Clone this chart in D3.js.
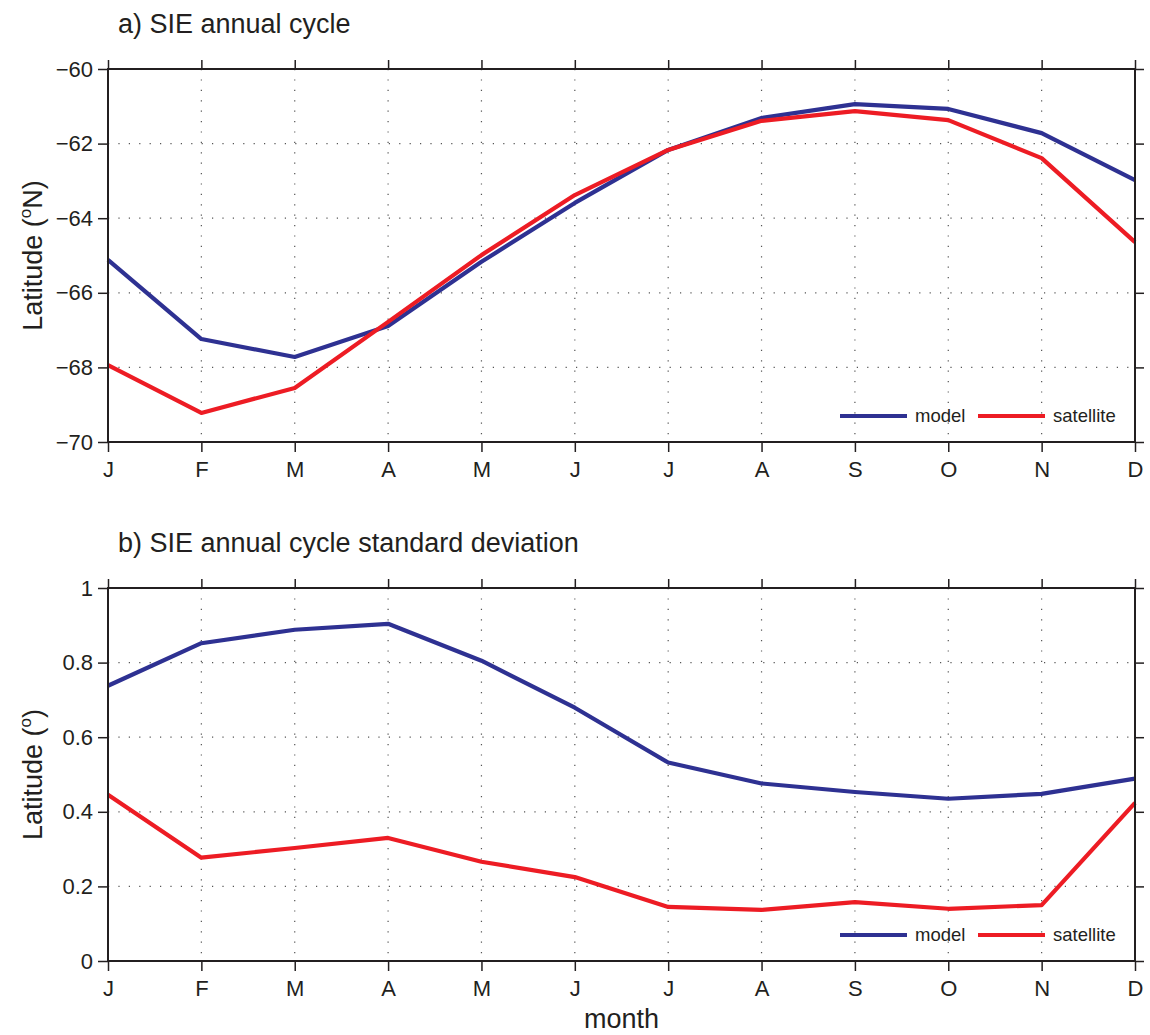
<!DOCTYPE html>
<html>
<head>
<meta charset="utf-8">
<script src="https://cdn.jsdelivr.net/npm/d3@7"></script>
<style>
  body { margin: 0; background: #fff; }
  svg text { font-family: "Liberation Sans", Arial, Helvetica, sans-serif; fill: #231f20; }
</style>
</head>
<body>
<svg id="chart" width="1150" height="1035"></svg>
<script>
// month labels
const months = ['J', 'F', 'M', 'A', 'M', 'J', 'J', 'A', 'S', 'O', 'N', 'D'];

// a) annual cycle of sea ice edge latitude
const cycleModel = [-65.12, -67.24, -67.72, -66.89, -65.17, -63.59, -62.17, -61.31, -60.94, -61.07, -61.72, -62.98];
const cycleSatellite = [-67.94, -69.22, -68.55, -66.78, -64.99, -63.38, -62.17, -61.39, -61.13, -61.37, -62.39, -64.64];
const cycleTicks = [-60, -62, -64, -66, -68, -70];

// b) standard deviation of annual cycle
const sdModel = [0.738, 0.852, 0.888, 0.904, 0.805, 0.679, 0.532, 0.476, 0.453, 0.435, 0.448, 0.489];
const sdSatellite = [0.446, 0.277, 0.303, 0.330, 0.266, 0.225, 0.145, 0.137, 0.158, 0.140, 0.150, 0.424];
const sdTicks = [0, 0.2, 0.4, 0.6, 0.8, 1];

const seriesNames = ['model', 'satellite'];
const seriesColors = ['#2e3192', '#ed1c24'];

const svg = d3.select('#chart');
const left = 108, right = 1135;
const ink = '#231f20';

const x = d3.scaleLinear().domain([0, 11]).range([left, right]);

// Function to draw one panel
function drawPanel(opts) {
    const y = d3.scaleLinear().domain(opts.domain).range([opts.bottom, opts.top]);
    const g = svg.append('g');

    // dotted gridlines
    g.append('g')
        .selectAll('line')
        .data(opts.ticks)
        .join('line')
        .attr('x1', left).attr('x2', right)
        .attr('y1', d => y(d)).attr('y2', d => y(d))
        .attr('stroke', '#555').attr('stroke-width', 1.2)
        .attr('stroke-dasharray', '1.2,9.2');
    g.append('g')
        .selectAll('line')
        .data(d3.range(1, 11))
        .join('line')
        .attr('x1', d => x(d)).attr('x2', d => x(d))
        .attr('y1', opts.top).attr('y2', opts.bottom)
        .attr('stroke', '#555').attr('stroke-width', 1.2)
        .attr('stroke-dasharray', '1.2,9.2');

    // lines
    const line = d3.line()
        .x((d, i) => x(i))
        .y(d => y(d));
    opts.series.forEach((s, k) => {
        g.append('path')
            .attr('d', line(s))
            .attr('fill', 'none')
            .attr('stroke', seriesColors[k])
            .attr('stroke-width', 4.2)
            .attr('stroke-linejoin', 'round');
    });

    // axes, ticks pointing outward on all sides
    const fmt = opts.format;
    const yLeft = d3.axisLeft(y).tickValues(opts.ticks).tickSize(10).tickPadding(5).tickFormat(fmt);
    const yRight = d3.axisRight(y).tickValues(opts.ticks).tickSize(9).tickFormat('');
    const xBottom = d3.axisBottom(x).tickValues(d3.range(12)).tickSize(10).tickPadding(9).tickFormat(i => months[i]);
    const xTop = d3.axisTop(x).tickValues(d3.range(12)).tickSize(9).tickFormat('');

    g.append('g').attr('transform', `translate(${left},0)`).call(yLeft);
    g.append('g').attr('transform', `translate(${right},0)`).call(yRight);
    g.append('g').attr('transform', `translate(0,${opts.bottom})`).call(xBottom);
    g.append('g').attr('transform', `translate(0,${opts.top})`).call(xTop);

    g.selectAll('.domain').remove();
    g.selectAll('.tick line').attr('stroke', ink).attr('stroke-width', 1.5);
    g.selectAll('.tick text').attr('font-size', 22).style('fill', ink);

    g.append('rect')
        .attr('x', left).attr('y', opts.top)
        .attr('width', right - left).attr('height', opts.bottom - opts.top)
        .attr('fill', 'none').attr('stroke', ink).attr('stroke-width', 2);

    // title
    g.append('text')
        .attr('x', 118).attr('y', opts.top - 36)
        .attr('font-size', 27)
        .text(opts.title);

    // y label
    const yl = g.append('text')
        .attr('transform', `translate(42,${(opts.top + opts.bottom) / 2}) rotate(-90)`)
        .attr('text-anchor', 'middle')
        .attr('font-size', 27);
    yl.append('tspan').text('Latitude (');
    yl.append('tspan').attr('font-size', 17).attr('dy', -11).text('o');
    yl.append('tspan').attr('dy', 11).text(opts.unit + ')');

    // legend
    const legY = opts.bottom - 26;
    const legX = [840, 978];
    seriesNames.forEach((n, k) => {
        g.append('line')
            .attr('x1', legX[k]).attr('x2', legX[k] + 67)
            .attr('y1', legY).attr('y2', legY)
            .attr('stroke', seriesColors[k]).attr('stroke-width', 4.2);
        g.append('text')
            .attr('x', legX[k] + 75).attr('y', legY + 6)
            .attr('font-size', 18.5)
            .text(n);
    });
}

drawPanel({
    top: 69, bottom: 442,
    domain: [-70, -60],
    ticks: cycleTicks,
    format: d => d3.format('d')(d).replace('-', '\u2212'),
    series: [cycleModel, cycleSatellite],
    title: 'a) SIE annual cycle',
    unit: 'N'
});

drawPanel({
    top: 588, bottom: 961,
    domain: [0, 1],
    ticks: sdTicks,
    format: d => String(d),
    series: [sdModel, sdSatellite],
    title: 'b) SIE annual cycle standard deviation',
    unit: ''
});

svg.append('text')
    .attr('x', (left + right) / 2).attr('y', 1028)
    .attr('text-anchor', 'middle')
    .attr('font-size', 27)
    .text('month');
</script>
</body>
</html>
